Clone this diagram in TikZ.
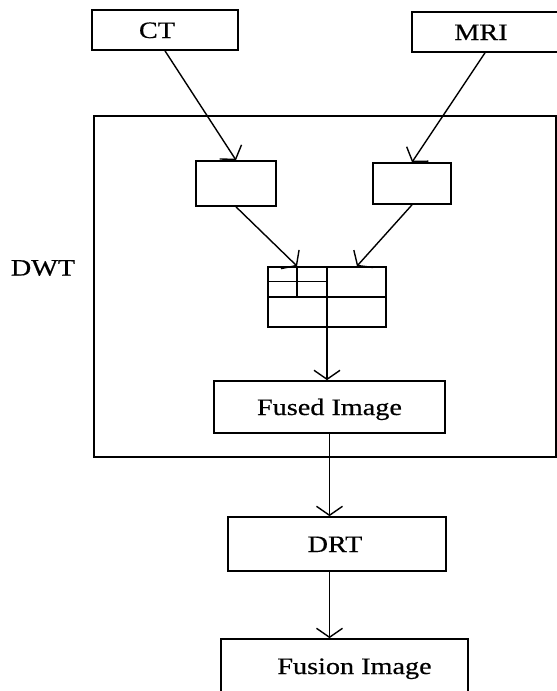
\documentclass[tikz,border=0pt]{standalone}
\usepackage{fontspec}
\setmainfont{Liberation Serif}[FakeStretch=1.2,FakeBold=0.5]
\usetikzlibrary{positioning,arrows.meta,calc}
\tikzset{
    blk/.style={rectangle,draw,line width=1.7pt,inner sep=0pt,text height=16pt,text depth=0pt,
        font=\fontsize{23.5}{28}\selectfont},
    lbl/.style={font=\fontsize{23.5}{28}\selectfont},
    ln/.style={line width=1.7pt},
    edge/.style={-{Straight Barb[length=9pt,width=26pt]},line width=1.4pt},
}

\begin{document}
\begin{tikzpicture}[x=1pt,y=-1pt]
\useasboundingbox (0,0) rectangle (557,691);
% DWT stage
\node[blk,minimum width=462pt,minimum height=341pt] (dwt) at (325,286.5) {};
\node[lbl] (dwtname) at (43,268) {DWT};

% inputs
\node[blk,minimum width=146pt,minimum height=40pt] (ct)  at (165,30) {\hspace*{-16pt}CT};
\node[blk,minimum width=146pt,minimum height=40pt] (mri) at (485,32) {\hspace*{-8pt}MRI};

% decompositions
\node[blk,minimum width=80pt,minimum height=45pt] (lsub) at (236,183.5) {};
\node[blk,minimum width=78pt,minimum height=41pt] (rsub) at (412,183.5) {};

% coefficient grid
\node[blk,minimum width=118pt,minimum height=60pt] (grid) at (327,297) {};
\draw[ln] (grid.north) -- (grid.south);
\draw[ln] (grid.west) -- (grid.east);
\coordinate (tl) at ($(grid.north west)!0.5!(grid.north)$);
\coordinate (tr) at ($(grid.north)!0.5!(grid.north east)$);
\draw[ln] (tl) -- ($(grid.west)!0.5!(grid.center)$);
\draw[ln] ($(grid.north west)!0.5!(grid.west)$) -- ($(grid.north)!0.5!(grid.center)$);

% outputs
\node[blk,minimum width=231pt,minimum height=52pt] (fused) at (329.5,407) {Fused Image};
\node[blk,minimum width=218pt,minimum height=54pt] (drt)   at (337,544) {\hspace*{-4pt}DRT};
\node[blk,minimum width=247pt,minimum height=54pt] (fus)   at (344.5,666) {\hspace*{20pt}Fusion Image};

\draw[edge] (ct.south) -- (lsub.north);
\draw[edge] (mri.south) -- (rsub.north);
\draw[edge] (lsub.south) -- (tl);
\draw[edge] (rsub.south) -- (tr);
\draw[edge] (grid.south) -- (grid.south |- fused.north);
\draw[edge] (fused.south) -- (fused.south |- drt.north);
\draw[edge] (drt.south -| fused.south) -- (fused.south |- fus.north);
\end{tikzpicture}
\end{document}
